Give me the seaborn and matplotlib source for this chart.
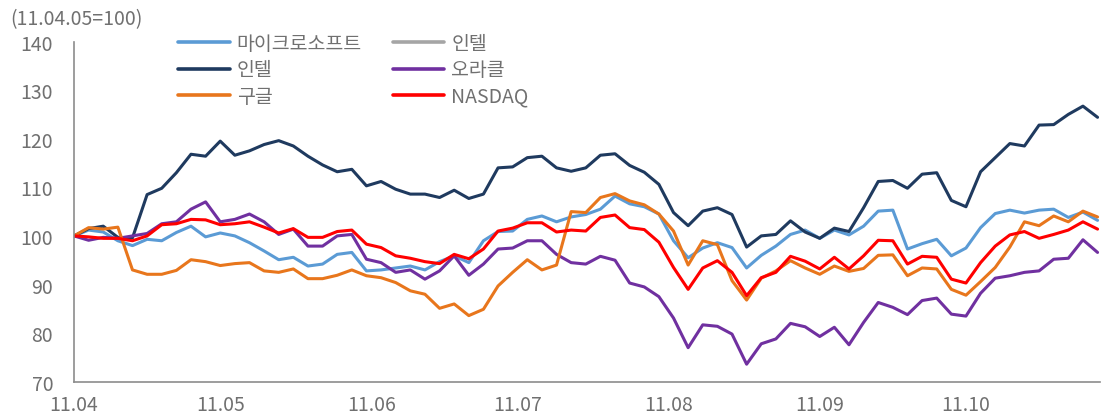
import numpy as np
import pandas as pd
import seaborn as sns
import matplotlib.pyplot as plt
from matplotlib.lines import Line2D

# sampled every 3 calendar days from 2011-04-05 (index = 100 at start)
dates = pd.date_range('2011-04-05', periods=71, freq='3D')

msft = [100, 101.2, 100.8, 99, 98, 99.3, 99, 100.7, 102, 99.8,
        100.6, 100, 98.6, 96.9, 95.1, 95.6, 93.8, 94.2, 96.2, 96.6,
        92.8, 93, 93.4, 93.8, 93, 94.7, 95.9, 94.5, 99, 100.9,
        101, 103.4, 104.1, 102.9, 103.9, 104.4, 105.5, 108.2, 106.6, 106,
        104.5, 99, 95.5, 97.5, 98.6, 97.6, 93.4, 96, 97.9, 100.3,
        101.2, 99.5, 101.2, 100.2, 102, 105.1, 105.3, 97.3, 98.4, 99.3,
        95.9, 97.5, 101.7, 104.6, 105.3, 104.7, 105.3, 105.5, 103.8, 104.9, 103.2]

intel = [100, 101.5, 102, 99.7, 99.6, 108.5, 109.8, 113, 116.8, 116.4,
         119.5, 116.6, 117.5, 118.8, 119.6, 118.5, 116.4, 114.6, 113.2, 113.7,
         110.3, 111.2, 109.6, 108.6, 108.6, 107.9, 109.4, 107.7, 108.6, 114,
         114.2, 116.1, 116.4, 114, 113.3, 114, 116.6, 116.9, 114.5, 113.1,
         110.6, 104.8, 102.1, 105.1, 105.8, 104.4, 97.7, 100, 100.3, 103.1,
         100.8, 99.5, 101.6, 100.9, 105.8, 111.2, 111.4, 109.8, 112.7, 113,
         107.3, 106, 113.2, 116.1, 119, 118.5, 122.8, 122.9, 125, 126.7, 124.4]

oracle = [100, 99.1, 99.7, 99.5, 100, 100.5, 102.5, 102.9, 105.5, 107,
          102.9, 103.4, 104.5, 102.9, 100.3, 101.4, 97.9, 97.9, 100, 100.3,
          95.2, 94.5, 92.5, 93, 91.1, 92.8, 95.9, 91.9, 94.2, 97.3,
          97.5, 99, 99, 96.2, 94.5, 94.2, 95.8, 95, 90.3, 89.5,
          87.5, 83.1, 77, 81.7, 81.4, 79.8, 73.6, 77.8, 78.8, 82,
          81.3, 79.3, 81.2, 77.6, 82.2, 86.3, 85.3, 83.8, 86.7, 87.2,
          83.9, 83.5, 88.2, 91.3, 91.8, 92.5, 92.8, 95.2, 95.4, 99.2, 96.6]

google = [100, 101.7, 101.4, 101.8, 93, 92.1, 92.1, 92.9, 95.1, 94.7,
          93.9, 94.3, 94.5, 92.8, 92.5, 93.2, 91.2, 91.2, 91.9, 93,
          91.8, 91.4, 90.4, 88.7, 88, 85.1, 86, 83.6, 84.9, 89.7,
          92.5, 95.1, 93, 94, 105, 104.8, 107.9, 108.7, 107.2, 106.4,
          104.5, 101, 94, 99, 98.2, 90.8, 86.8, 91.3, 92.8, 94.9,
          93.4, 92.1, 93.8, 92.7, 93.3, 96, 96.1, 91.8, 93.4, 93.2,
          89, 87.8, 90.6, 93.5, 97.7, 102.9, 102.1, 104.1, 102.9, 105.1, 103.9]

nasdaq = [100, 99.8, 99.5, 99.5, 99, 100, 102.3, 102.5, 103.4, 103.3,
          102.3, 102.5, 102.9, 101.8, 100.6, 101.5, 99.7, 99.7, 100.9, 101.2,
          98.3, 97.6, 95.9, 95.4, 94.7, 94.3, 96.2, 95.3, 97.3, 101,
          101.6, 102.7, 102.7, 100.8, 101.2, 101, 103.8, 104.3, 101.7, 101.3,
          98.7, 93.5, 89, 93.4, 94.9, 92.5, 87.7, 91.4, 92.5, 95.8,
          94.8, 93.2, 95.6, 93.2, 95.9, 99.1, 99, 94.2, 95.8, 95.6,
          91.1, 90.3, 94.5, 97.9, 100.2, 100.9, 99.5, 100.3, 101.2, 102.9, 101.4]

tick_dates = pd.to_datetime(['2011-04-05', '2011-05-05', '2011-06-05', '2011-07-05',
                             '2011-08-05', '2011-09-05', '2011-10-05'])
tick_labels = ['11.04', '11.05', '11.06', '11.07', '11.08', '11.09', '11.10']

sns.set_style('white')
plt.rcParams['font.family'] = ['Noto Sans CJK KR', 'DejaVu Sans']

text_col = '#707070'
axis_col = '#8c8c8c'
fs = 14

fig = plt.figure(figsize=(11.02, 4.14), dpi=100)
ax = fig.add_axes([74 / 1102, 1 - 382.7 / 414, 1026 / 1102, 340.2 / 414])

series = [
    ('마이크로소프트', msft, '#5b9bd5'),
    ('인텔', intel, '#1f3a5f'),
    ('오라클', oracle, '#7030a0'),
    ('구글', google, '#e8761c'),
    ('NASDAQ', nasdaq, '#ff0000'),
]
handles = {}
for name, vals, col in series:
    sns.lineplot(x=dates, y=vals, color=col, lw=2.2, ax=ax)
    handles[name] = Line2D([], [], color=col, lw=2.6)
# the source chart also lists an empty grey series
ghost = ax.plot([], [], color='#a5a5a5', lw=2.6)[0]

order = [handles['마이크로소프트'], handles['인텔'], handles['구글'],
         ghost, handles['오라클'], handles['NASDAQ']]
labels = ['마이크로소프트', '인텔', '구글', '인텔', '오라클', 'NASDAQ']
fig.legend(order, labels, ncol=2, loc='upper left',
           bbox_to_anchor=(178 / 1102, 1 - 34 / 414), frameon=False,
           fontsize=fs, labelcolor=text_col, handlelength=2.65,
           handletextpad=0.36, columnspacing=1.6, labelspacing=0.28,
           borderpad=0, borderaxespad=0)

ax.set_xlim(dates[0], dates[0] + pd.Timedelta(days=210.5))
ax.set_ylim(70, 140)
ax.set_yticks(np.arange(70, 141, 10))
ax.set_xticks(tick_dates)
ax.set_xticklabels(tick_labels)
ax.set_xlabel('')
ax.set_ylabel('')

for s in ['top', 'right']:
    ax.spines[s].set_visible(False)
for s in ['left', 'bottom']:
    ax.spines[s].set_color(axis_col)
    ax.spines[s].set_linewidth(1.2)
ax.tick_params(axis='y', direction='in', length=4, width=1, color=axis_col,
               labelsize=fs, labelcolor=text_col, pad=15)
ax.tick_params(axis='x', direction='in', length=4, width=1, color=axis_col,
               labelsize=fs, labelcolor=text_col, pad=9)

fig.text(10 / 1102, 1 - 20 / 414, '(11.04.05=100)', fontsize=fs,
         color=text_col, ha='left', va='center')

fig.savefig('out.png', dpi=100)
